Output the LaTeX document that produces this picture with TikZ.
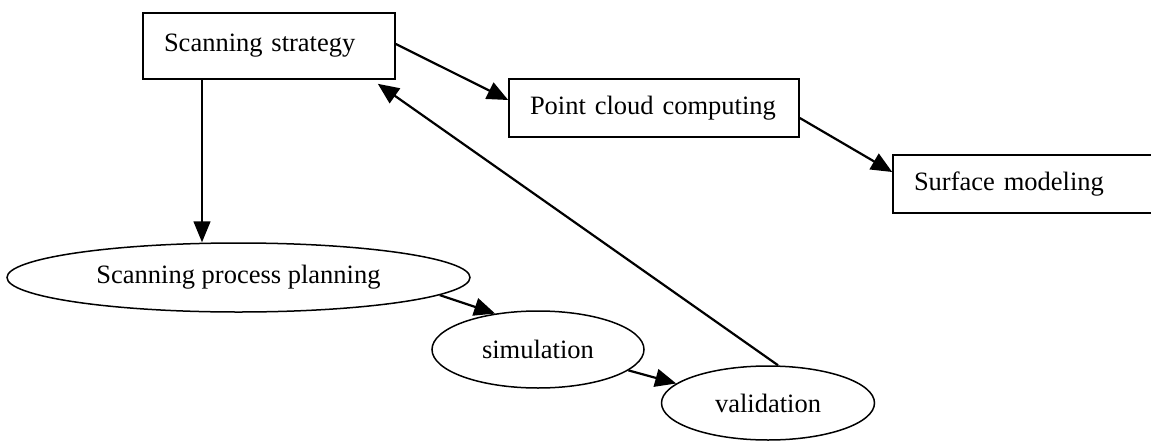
\documentclass[tikz,border=0pt]{standalone}
\usepackage{fontspec}
\setmainfont{Liberation Serif}
\usetikzlibrary{arrows.meta,shapes.geometric}
\begin{document}
\begin{tikzpicture}[x=1pt,y=-1pt,
  boxnode/.style={draw,line width=1.6pt,rectangle,inner xsep=21pt,inner ysep=0pt,align=left,font=\fontsize{26.5}{30}\selectfont},
  ellnode/.style={draw,line width=1.5pt,ellipse,inner sep=0pt,font=\fontsize{26.5}{30}\selectfont},
  arr/.style={line width=2.2pt,-{Triangle[length=21pt,width=18pt]}},
  thinarr/.style={line width=1.5pt,-{Triangle[length=21pt,width=17pt]}}]
\useasboundingbox (0,0) rectangle (1151,442);
\node[boxnode,text width=210pt,minimum height=66pt] (b1) at (269,46) {Scanning strategy};
\node[boxnode,text width=248pt,minimum height=58pt] (b2) at (654,108) {Point cloud computing};
\node[boxnode,text width=220pt,minimum height=58pt] (b3) at (1024,184) {Surface modeling};
\node[ellnode,minimum width=463pt,minimum height=69pt] (e1) at (238.5,277.5) {Scanning process planning};
\node[ellnode,minimum width=212pt,minimum height=77pt] (sim) at (538,349.5) {simulation};
\node[ellnode,minimum width=213pt,minimum height=74pt] (val) at (768,403) {validation};
\draw[arr] ([yshift=2pt]b1.east) -- ([yshift=8pt]b2.west);
\draw[arr] ([yshift=-10pt]b2.east) -- ([yshift=12pt]b3.west);
\draw[thinarr] ([xshift=-67pt]b1.south) -- ([xshift=-67pt]b1.south |- e1.north);
\draw[arr] ([xshift=10pt]val.north) -- ([xshift=-18pt,yshift=-4pt]b1.south east);
\draw[arr] (e1.-5) -- (sim.140);
\draw[arr] (sim.-13) -- (val.168);
\end{tikzpicture}
\end{document}
